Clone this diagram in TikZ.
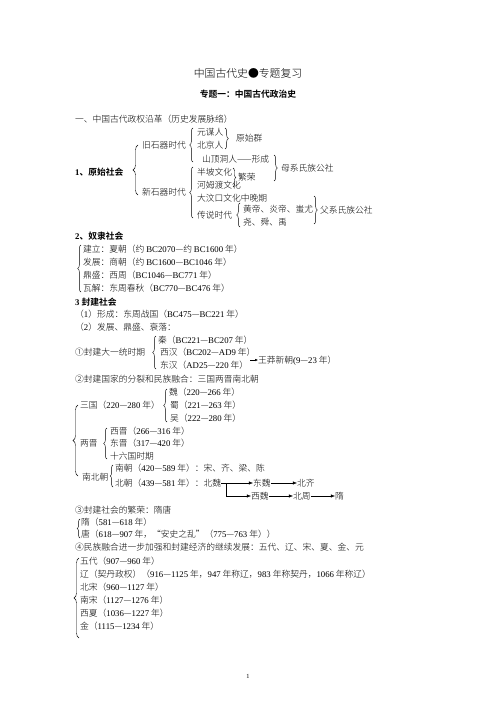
\documentclass[tikz,border=0pt]{standalone}
\usepackage{fontspec}
\IfFontExistsTF{Noto Sans CJK SC Light}{%
  \setmainfont{Noto Sans CJK SC Light}[BoldFont={Noto Sans CJK SC Bold}]}{%
  \setmainfont{Noto Sans CJK SC}}
\newfontfamily\latinf{Liberation Serif}
\usetikzlibrary{decorations.pathreplacing,arrows.meta}
\newcommand{\rn}[1]{{\latinf #1}}
\begin{document}
\begin{tikzpicture}[x=1.2pt,y=-1.2pt,
  txt/.style={anchor=west,inner sep=0pt,font=\fontsize{10.5pt}{12pt}\selectfont,text height=8.7pt,text depth=0.8pt},
  txtb/.style={txt,font=\fontsize{10.5pt}{12pt}\selectfont\bfseries},
  sbr/.style={decorate,decoration={brace,amplitude=3.5pt},line width=0.5pt},
  br/.style={decorate,decoration={brace,amplitude=4pt},line width=0.5pt},
  bb/.style={decorate,decoration={brace,amplitude=6pt},line width=0.5pt},
  arr/.style={-{Latex[length=5pt,width=4pt]},line width=0.6pt},
  sarr/.style={-{Latex[length=3.5pt,width=3pt]},line width=0.5pt}]
\fill[white] (0,0) rectangle (496,702);
\useasboundingbox (0,0) rectangle (496,702);
% titles
\node[inner sep=0pt,font=\fontsize{13pt}{14pt}\selectfont] (title) at (248,73) {中国古代史●专题复习};
\node[inner sep=0pt,font=\fontsize{10.5pt}{12pt}\selectfont\bfseries] (sub) at (248,94.5) {专题一：中国古代政治史};
\node[txt] (h1) at (75,119) {一、中国古代政权沿革（历史发展脉络）};
% 1 primitive society
\node[txtb] (ys) at (75,172) {\rn{1}、原始社会};
\draw[bb] (138,195) -- (138,145);
\node[txt] (jiu) at (142,145) {旧石器时代};
\draw[br] (193,162) -- (193,128);
\node[txt] (ym) at (197,132) {元谋人};
\node[txt] (bj) at (197,145) {北京人};
\draw[br] (225,128) -- (225,149);
\node[txt] (ysq) at (236,138.5) {原始群};
\node[txt] (sd) at (202,159) {山顶洞人——形成};
\draw[br] (274,155) -- (274,181);
\node[txt] (mx) at (281,168) {母系氏族公社};
\node[txt] (xin) at (142,192) {新石器时代};
\draw[br] (193,218) -- (193,167);
\node[txt] (bp) at (197,172) {半坡文化};
\node[txt] (hm) at (197,185) {河姆渡文化};
\draw[sbr] (233,168) -- (233,187);
\node[txt] (fr) at (238,177.5) {繁荣};
\node[txt] (dw) at (197,198) {大汶口文化中晚期};
\node[txt] (cs) at (197,215) {传说时代};
\draw[br] (240,227) -- (240,203);
\node[txt] (hd) at (243,209) {黄帝、炎帝、蚩尤};
\node[txt] (ysy) at (243,222) {尧、舜、禹};
\draw[br] (314,196) -- (314,224);
\node[txt] (fx) at (320,210) {父系氏族公社};
% 2 slave society
\node[txtb] (nl) at (75,236) {\rn{2}、奴隶社会};
\draw[br] (81,292) -- (81,245);
\node[txt] (l1) at (83,249) {建立：夏朝（约 \rn{BC2070}—约 \rn{BC1600} 年）};
\node[txt] (l2) at (83,262) {发展：商朝（约 \rn{BC1600}—\rn{BC1046} 年）};
\node[txt] (l3) at (83,275) {鼎盛：西周（\rn{BC1046}—\rn{BC771} 年）};
\node[txt] (l4) at (83,288) {瓦解：东周春秋（\rn{BC770}—\rn{BC476} 年）};
% 3 feudal society
\node[txtb] (fj) at (75,302) {\rn{3} 封建社会};
\node[txt] (f1) at (75,314) {（\rn{1}）形成：东周战国（\rn{BC475}—\rn{BC221} 年）};
\node[txt] (f2) at (75,327) {（\rn{2}）发展、鼎盛、衰落：};
\node[txt] (dy) at (75,352) {①封建大一统时期};
\draw[br] (156,369) -- (156,336);
\node[txt] (qin) at (158,340) {秦（\rn{BC221}—\rn{BC207} 年）};
\node[txt] (xh) at (160,352) {西汉（\rn{BC202}—\rn{AD9} 年）};
\node[txt] (dh) at (160,365) {东汉（\rn{AD25}—\rn{220} 年）};
\coordinate (wmA) at (250,360);
\node[txt] (wm) at (258,360) {王莽新朝\rn{(9}—\rn{23} 年）};
\draw[sarr] (wmA) -- (wm.west);
\node[txt] (f3) at (75,379) {②封建国家的分裂和民族融合：三国两晋南北朝};
\draw[bb] (78,476) -- (78,405);
\node[txt] (sg) at (80,405) {三国（\rn{220}—\rn{280} 年）};
\draw[br] (167,422) -- (167,389);
\node[txt] (wei) at (169,392) {魏（\rn{220}—\rn{266} 年）};
\node[txt] (shu) at (170,405) {蜀（\rn{221}—\rn{263} 年）};
\node[txt] (wu) at (170,418) {吴（\rn{222}—\rn{280} 年）};
\node[txt] (lj) at (80,443) {两晋};
\draw[br] (107,459) -- (107,428);
\node[txt] (xj) at (110,431) {西晋（\rn{266}—\rn{316} 年）};
\node[txt] (dj) at (110,443) {东晋（\rn{317}—\rn{420} 年）};
\node[txt] (sl) at (110,456) {十六国时期};
\node[txt] (nbc) at (82,477) {南北朝};
\draw[sbr] (113,487) -- (113,465);
\node[txt] (nc) at (115,468) {南朝（\rn{420}—\rn{589} 年）：宋、齐、梁、陈};
\node[txt] (bc) at (115,483) {北朝（\rn{439}—\rn{581} 年）：北魏};
\node[txt] (dwei) at (253,483) {东魏};
\node[txt] (bq) at (297,483) {北齐};
\node[txt] (xw) at (251,496) {西魏};
\node[txt] (bz) at (293,496) {北周};
\node[txt] (sui2) at (335,496) {隋};
\coordinate (brn) at (226,483);
\draw[arr] (bc.east) -- (dwei.west);
\draw[arr] (dwei.east) -- (bq.west);
\draw[arr] (brn) |- (xw.west);
\draw[arr] (xw.east) -- (bz.west);
\draw[arr] (bz.east) -- (sui2.west);
\node[txt] (f4) at (75,510) {③封建社会的繁荣：隋唐};
\draw[sbr] (80,538) -- (80,519);
\node[txt] (sui) at (81,522) {隋（\rn{581}—\rn{618} 年）};
\node[txt] (tang) at (81,534) {唐（\rn{618}—\rn{907} 年，“安史之乱”（\rn{775}—\rn{763} 年））};
\node[txt] (f5) at (75,547) {④民族融合进一步加强和封建经济的继续发展：五代、辽、宋、夏、金、元};
\draw[bb] (79,638) -- (79,558);
\node[txt] (wd) at (80,561) {五代（\rn{907}—\rn{960} 年）};
\node[txt] (liao) at (80,574) {辽（契丹政权）（\rn{916}—\rn{1125} 年，\rn{947} 年称辽，\rn{983} 年称契丹，\rn{1066} 年称辽）};
\node[txt] (bs) at (80,587) {北宋（\rn{960}—\rn{1127} 年）};
\node[txt] (ns) at (80,600) {南宋（\rn{1127}—\rn{1276} 年）};
\node[txt] (xx) at (80,613) {西夏（\rn{1036}—\rn{1227} 年）};
\node[txt] (jin) at (80,626) {金（\rn{1115}—\rn{1234} 年）};
\node[inner sep=0pt,font=\fontsize{7.5pt}{8pt}\latinf] (pg) at (248,676) {1};
\end{tikzpicture}
\end{document}
